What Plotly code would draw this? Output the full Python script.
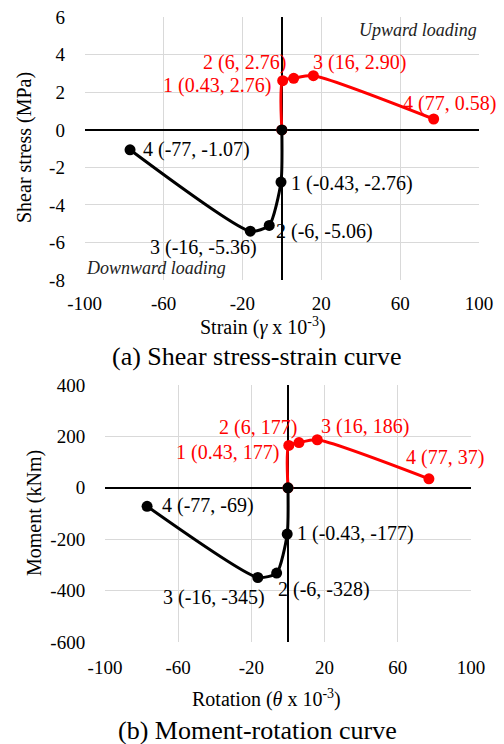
import plotly.graph_objects as go

# ---------------- data ----------------
# (a) Shear stress-strain
strain_up = [0, 0.43, 6, 16, 77]
stress_up = [0, 2.62, 2.75, 2.89, 0.58]
strain_down = [0, -0.43, -6.4, -16, -77]
stress_down = [0, -2.78, -5.09, -5.40, -1.06]
labels_a_up = ["1 (0.43, 2.76)", "2 (6, 2.76)", "3 (16, 2.90)", "4 (77, 0.58)"]
labels_a_down = ["1 (-0.43, -2.76)", "2 (-6, -5.06)", "3 (-16, -5.36)", "4 (-77, -1.07)"]

# (b) Moment-rotation
rot_up = [0, 0.43, 6, 16, 77]
mom_up = [0, 165, 176, 187, 35]
rot_down = [0, -0.43, -6.2, -16.5, -77]
mom_down = [0, -180, -332, -349, -72]
labels_b_up = ["1 (0.43, 177)", "2 (6, 177)", "3 (16, 186)", "4 (77, 37)"]
labels_b_down = ["1 (-0.43, -177)", "2 (-6, -328)", "3 (-16, -345)", "4 (-77, -69)"]

x_ticks = [-100, -60, -20, 20, 60, 100]
x_tick_text = ["-100", "-60", "-20", "20", "60", "100"]
y_ticks_a = [-8, -6, -4, -2, 0, 2, 4, 6]
y_tick_text_a = ["-8", "-6", "-4", "-2", "0", "2", "4", "6"]
y_ticks_b = [-600, -400, -200, 0, 200, 400]
y_tick_text_b = ["-600", "-400", "-200", "0", "200", "400"]

W, H = 504, 744
FONT = "Liberation Serif, Times New Roman, serif"
RED = "#ff0000"
BLACK = "#000000"
GRID = "#d9d9d9"

fig = go.Figure()

def add_series(x, y, color, xa, ya):
    fig.add_trace(go.Scatter(
        x=x, y=y, mode="lines+markers",
        line=dict(color=color, width=3, shape="spline", smoothing=0.6),
        marker=dict(color=color, size=11),
        xaxis=xa, yaxis=ya, showlegend=False, hoverinfo="skip"))

add_series(strain_up, stress_up, RED, "x", "y")
add_series(strain_down, stress_down, BLACK, "x", "y")
add_series(rot_up, mom_up, RED, "x2", "y2")
add_series(rot_down, mom_down, BLACK, "x2", "y2")

annotations = []

def lab(text, x, y, color, xa, ya, anchor, xs, ys):
    annotations.append(dict(
        text=text, x=x, y=y, xref=xa, yref=ya, showarrow=False,
        xanchor=anchor, yanchor="middle", xshift=xs, yshift=ys,
        font=dict(family=FONT, size=20, color=color)))

# label placement offsets (pixels) for points 1..4
off_a_up = [("right", -10, -5), ("right", -6, 16), ("left", -2, 13), ("center", 16, 15)]
off_a_down = [("left", 8, -1), ("left", 5, -6), ("right", 9, -16), ("left", 11, 0)]
off_b_up = [("right", -8, -7), ("right", 0, 15), ("left", 2, 13), ("center", 16, 21)]
off_b_down = [("left", 8, 1), ("left", -1, -16), ("right", 9, -20), ("left", 13, 1)]

for i in range(4):
    a, xs, ys = off_a_up[i]
    lab(labels_a_up[i], strain_up[i + 1], stress_up[i + 1], RED, "x", "y", a, xs, ys)
    a, xs, ys = off_a_down[i]
    lab(labels_a_down[i], strain_down[i + 1], stress_down[i + 1], BLACK, "x", "y", a, xs, ys)
    a, xs, ys = off_b_up[i]
    lab(labels_b_up[i], rot_up[i + 1], mom_up[i + 1], RED, "x2", "y2", a, xs, ys)
    a, xs, ys = off_b_down[i]
    lab(labels_b_down[i], rot_down[i + 1], mom_down[i + 1], BLACK, "x2", "y2", a, xs, ys)

def px(x):
    return x / W

def py(y):
    return 1 - y / H

# corner notes
annotations.append(dict(text="<i>Upward loading</i>", x=1, y=1, xref="x domain", yref="y domain",
                        xanchor="right", yanchor="top", showarrow=False, yshift=-1, xshift=0,
                        font=dict(family=FONT, size=18, color="#222222")))
annotations.append(dict(text="<i>Downward loading</i>", x=0, y=0, xref="x domain", yref="y domain",
                        xanchor="left", yanchor="bottom", showarrow=False, yshift=0, xshift=-1,
                        font=dict(family=FONT, size=18, color="#222222")))

# axis titles and captions
def text_at(text, x, y, size, angle=0):
    annotations.append(dict(text=text, x=px(x), y=py(y), xref="paper", yref="paper",
                            xanchor="center", yanchor="middle", showarrow=False, textangle=angle,
                            font=dict(family=FONT, size=size, color="#000000")))

text_at("Strain (<i>γ</i> x 10<sup>-3</sup>)", 263, 327, 20)
text_at("(a) Shear stress-strain curve", 257, 356, 26)
text_at("Shear stress (MPa)", 24, 148, 20, -90)
text_at("Rotation (<i>θ</i> x 10<sup>-3</sup>)", 266, 698, 20)
text_at("(b) Moment-rotation curve", 257, 730, 26)
text_at("Moment (kNm)", 34, 513, 20, -90)

axis_common = dict(showgrid=True, gridcolor=GRID, gridwidth=1, showline=False,
                   zeroline=True, zerolinecolor="#000000", zerolinewidth=1.5,
                   ticks="outside", tickcolor="rgba(0,0,0,0)", automargin=False,
                   tickmode="array",
                   tickfont=dict(family=FONT, size=19, color="#000000"), fixedrange=True)

fig.update_layout(
    template="none",
    font=dict(family=FONT, size=19, color="#000000"),
    width=W, height=H, margin=dict(l=0, r=0, t=0, b=0, pad=0, autoexpand=False),
    paper_bgcolor="white", plot_bgcolor="white",
    xaxis=dict(domain=[px(84.7), px(479)], range=[-100, 100], tickvals=x_ticks, ticktext=x_tick_text,
               anchor="y", ticklen=6, **axis_common),
    yaxis=dict(domain=[py(280), py(17.3)], range=[-8, 6], tickvals=y_ticks_a, ticktext=y_tick_text_a,
               anchor="x", ticklen=15, **axis_common),
    xaxis2=dict(domain=[px(105), px(471)], range=[-100, 100], tickvals=x_ticks, ticktext=x_tick_text,
                anchor="y2", ticklen=8, **axis_common),
    yaxis2=dict(domain=[py(642), py(385)], range=[-600, 400], tickvals=y_ticks_b, ticktext=y_tick_text_b,
                anchor="x2", ticklen=15, **axis_common),
    annotations=annotations,
)

fig.write_html("out.html")
